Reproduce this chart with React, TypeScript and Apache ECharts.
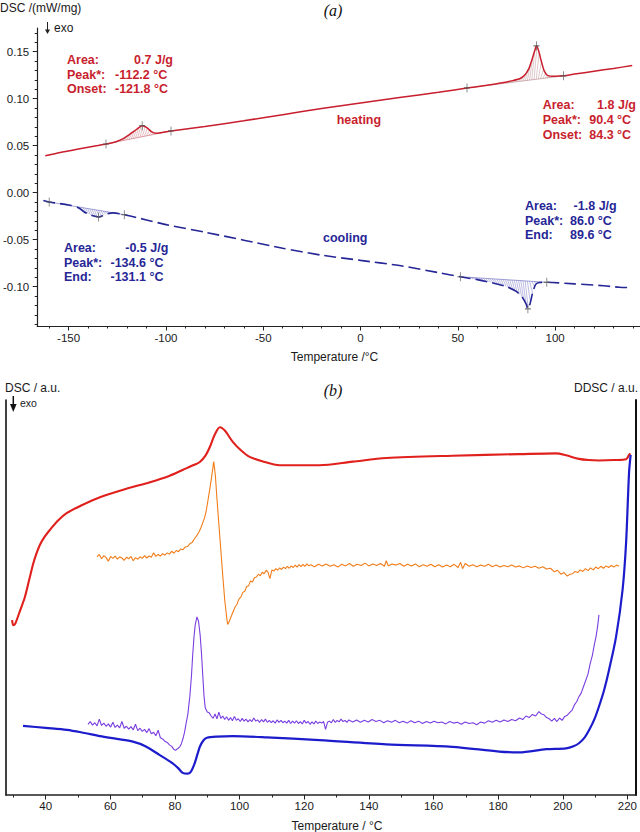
import { useEffect, useRef } from "react";
import * as echarts from "echarts";

// ---- (a) DSC traces: temperature (°C) and heat flow (mW/mg) ----
const heatT = [-162, -155, -145, -135, -130.8, -126, -122, -118, -115, -112.2, -110, -107.5, -105, -100, -97.4, -80, -60, -40, -20, 0, 20, 40, 54.7, 65, 72, 78, 82, 84.5, 86.5, 88, 89.5, 90.4, 91.5, 93, 94.5, 96.3, 100, 104.3, 110, 120, 130, 139.6];
const heatDSC = [0.0392, 0.0425, 0.0465, 0.0502, 0.0518, 0.054, 0.0575, 0.063, 0.0675, 0.0713, 0.0695, 0.065, 0.0632, 0.0648, 0.0657, 0.0705, 0.0765, 0.083, 0.0895, 0.0955, 0.1012, 0.1068, 0.1114, 0.1142, 0.1166, 0.1192, 0.1215, 0.1255, 0.132, 0.141, 0.151, 0.1562, 0.151, 0.139, 0.129, 0.1245, 0.1238, 0.1243, 0.1262, 0.1292, 0.1322, 0.1352];

const coolT = [-163, -160, -150, -145, -142, -139, -136.5, -134.6, -132.5, -130, -127, -121.4, -110, -99, -80, -60, -40, -20.5, 0, 20, 40, 51.3, 60, 68, 75, 80, 83, 85, 86.0, 87, 88.5, 90, 92, 95.7, 110, 125, 133, 139.6];
const coolDSC = [-0.0083, -0.0099, -0.013, -0.016, -0.0205, -0.0235, -0.025, -0.0258, -0.0245, -0.0225, -0.0215, -0.0234, -0.029, -0.0344, -0.042, -0.0505, -0.059, -0.0663, -0.072, -0.0775, -0.085, -0.0894, -0.0925, -0.096, -0.1, -0.105, -0.111, -0.118, -0.1235, -0.119, -0.106, -0.0975, -0.0955, -0.0953, -0.097, -0.099, -0.1006, -0.101];

// integration limits and peak temperatures [start, peak, end]
const heatPeaks = [[-130.8, -112.2, -97.4], [54.7, 90.4, 104.3]];
const coolPeaks = [[-160, -134.6, -121.4], [51.3, 86.0, 95.7]];

const aTempTicks = [-150, -100, -50, 0, 50, 100];
const aTempMinor = [-160, -140, -130, -120, -110, -90, -80, -70, -60, -40, -30, -20, -10, 10, 20, 30, 40, 60, 70, 80, 90, 110, 120, 130, 140];
const aDscTicks = [-0.1, -0.05, 0, 0.05, 0.1, 0.15];
const aDscMinor = [-0.14, -0.13, -0.12, -0.11, -0.09, -0.08, -0.07, -0.06, -0.04, -0.03, -0.02, -0.01, 0.01, 0.02, 0.03, 0.04, 0.06, 0.07, 0.08, 0.09, 0.11, 0.12, 0.13, 0.14, 0.16, 0.17];

// ---- (b) DSC / DDSC traces in arbitrary units ----
const redT = [29.6, 30.0, 30.6, 32.0, 33.6, 35.0, 36.1, 37.0, 38.2, 39.6, 41.3, 44.0, 46.6, 51, 56.8, 64, 72.3, 78, 82.4, 86, 87.7, 89.5, 90.8, 92.3, 93.9, 95.5, 97.9, 100.5, 103.1, 107, 112.4, 124.7, 135, 145.4, 165.8, 186.5, 197.9, 201, 205, 208, 211.2, 216, 219.6, 220.5, 220.9];
const redDSC = [44.3, 43.0, 43.4, 46.5, 50.2, 54.8, 58.4, 60.8, 63.3, 65.3, 67.1, 69.6, 71.4, 73.3, 75.4, 77.3, 79.2, 80.7, 82.3, 83.6, 84.3, 86.0, 88.1, 91.2, 93.1, 92.2, 89.4, 87.2, 85.6, 84.5, 83.5, 83.5, 84.4, 85.3, 85.9, 86.3, 86.5, 86.0, 85.1, 84.8, 84.7, 84.8, 85.0, 86.1, 86.5];

const orangeTrace = [
  [55.9, 60.3], [56.6, 60.9], [57.3, 59.8], [58.0, 60.6], [58.7, 60.1], [59.4, 59.2], [60.1, 60.4], [60.8, 59.9], [61.5, 60.5], [62.2, 59.7],
  [62.9, 60.3], [63.6, 60.0], [64.3, 59.4], [65.0, 60.2], [65.7, 59.8], [66.4, 60.4], [67.1, 59.3], [67.8, 60.1], [68.5, 59.7], [69.2, 60.3],
  [69.9, 59.9], [70.6, 60.6], [71.3, 60.0], [72.0, 60.5], [72.7, 60.2], [73.4, 61.3], [74.1, 60.4], [74.8, 60.9], [75.5, 60.5], [76.2, 61.1],
  [76.9, 60.7], [77.6, 61.3], [78.3, 61.0], [79.0, 61.7], [79.7, 61.2], [80.4, 61.9], [81.1, 61.6], [81.8, 62.3], [82.5, 62.1], [83.2, 62.8],
  [83.9, 62.9], [84.6, 63.6], [85.3, 63.9], [86.0, 64.8], [86.7, 65.6], [87.4, 66.5], [88.0, 67.6], [88.6, 68.9], [89.2, 70.3], [89.7, 72.0],
  [90.2, 74.5], [90.8, 77.5], [91.4, 80.8], [92.0, 84.4], [92.5, 81.0], [93.0, 75.0], [93.6, 68.5], [94.2, 62.0], [94.8, 55.5], [95.4, 49.5],
  [96.0, 45.0], [96.3, 43.2], [96.8, 43.9], [97.4, 45.2], [98.0, 46.4], [98.6, 47.6], [99.2, 48.3], [99.8, 49.6], [100.4, 50.1], [101.0, 51.3],
  [101.6, 51.6], [102.2, 52.8], [102.8, 53.0], [103.4, 54.2], [104.0, 53.9], [104.6, 55.0], [105.2, 55.2], [105.8, 55.9], [106.4, 55.5], [107.0, 56.4],
  [107.6, 56.0], [108.2, 56.9], [108.8, 56.4], [109.4, 54.8], [110.0, 57.0], [110.6, 56.7], [111.2, 57.3], [111.8, 56.9], [112.4, 57.5], [113.0, 57.1],
  [113.6, 57.7], [114.2, 57.3], [114.8, 57.9], [115.4, 57.4], [116.0, 58.0], [116.6, 57.6], [117.2, 58.2], [117.8, 57.7], [118.4, 58.3], [119.0, 57.8],
  [119.6, 58.4], [120.2, 57.9], [120.8, 58.5], [121.4, 58.0], [122.0, 58.3], [123.2, 57.8], [124.4, 58.4], [125.6, 58.0], [126.8, 58.5], [128.0, 57.9],
  [129.2, 58.3], [130.4, 57.7], [131.6, 58.4], [132.8, 58.0], [134.0, 58.6], [135.2, 57.9], [136.4, 58.4], [137.6, 58.1], [138.8, 58.7], [140.0, 58.0],
  [141.2, 58.5], [142.4, 58.1], [143.6, 58.6], [144.8, 57.9], [145.4, 59.3], [146.0, 58.0], [147.2, 58.5], [148.4, 58.2], [149.6, 58.6], [150.8, 57.9],
  [152.0, 58.4], [153.2, 58.0], [154.4, 58.5], [155.6, 57.8], [156.8, 58.3], [158.0, 57.9], [159.2, 58.4], [160.4, 57.8], [161.6, 58.3], [162.8, 57.7],
  [164.0, 58.2], [165.2, 57.8], [166.4, 58.4], [167.6, 57.6], [168.4, 58.9], [169.0, 57.3], [169.8, 58.6], [171.0, 57.9], [172.2, 58.3], [173.4, 57.8],
  [174.6, 58.2], [175.8, 57.9], [177.0, 58.4], [178.2, 57.8], [179.4, 58.2], [180.6, 57.7], [181.8, 58.1], [183.0, 57.8], [184.2, 58.2], [185.4, 57.7],
  [186.6, 58.0], [187.8, 57.5], [189.0, 58.0], [190.2, 57.6], [191.4, 57.9], [192.6, 57.4], [193.8, 57.8], [195.0, 57.2], [196.2, 57.4], [197.4, 56.5],
  [198.4, 56.9], [199.4, 55.9], [200.4, 56.3], [201.4, 55.4], [202.2, 55.9], [203.0, 56.0], [203.8, 56.6], [204.6, 56.3], [205.4, 57.0], [206.2, 56.6],
  [207.0, 57.3], [207.8, 56.8], [208.6, 57.5], [209.4, 57.0], [210.2, 57.7], [211.0, 57.3], [211.8, 57.9], [212.6, 57.4], [213.4, 58.0], [214.2, 57.6],
  [215.0, 58.1], [215.8, 57.7], [216.6, 58.2], [217.4, 57.9],
];

const purpleTrace = [
  [53.1, 17.9], [53.8, 18.6], [54.5, 17.7], [55.2, 18.3], [55.9, 17.5], [56.6, 19.2], [57.3, 17.6], [58.0, 18.2], [58.7, 17.4], [59.4, 18.0],
  [60.1, 17.2], [60.8, 18.4], [61.5, 17.1], [62.2, 17.7], [62.9, 17.0], [63.6, 18.6], [64.3, 16.9], [65.0, 17.4], [65.7, 16.7], [66.4, 17.3],
  [67.1, 16.5], [67.8, 17.9], [68.5, 16.3], [69.2, 16.9], [69.9, 16.1], [70.6, 16.6], [71.3, 15.8], [72.0, 16.8], [72.7, 15.5], [73.4, 15.9],
  [74.1, 15.0], [74.8, 16.4], [75.5, 14.5], [76.2, 14.2], [76.9, 13.6], [77.6, 13.3], [78.3, 12.7], [79.0, 12.3], [79.6, 11.6], [80.2, 11.3],
  [80.8, 11.7], [81.5, 12.2], [82.0, 13.0], [82.5, 14.3], [83.0, 16.0], [83.5, 18.3], [84.0, 20.5], [84.6, 24.9], [85.1, 30.0], [85.5, 35.5],
  [85.9, 40.0], [86.3, 43.2], [86.8, 45.1], [87.3, 44.0], [87.8, 40.5], [88.2, 36.0], [88.6, 30.5], [89.0, 25.0], [89.4, 22.0], [90.0, 21.0],
  [90.6, 20.8], [91.2, 20.0], [91.8, 19.4], [92.4, 20.5], [93.0, 19.3], [93.6, 21.0], [94.2, 19.4], [94.8, 20.0], [95.4, 19.1], [96.0, 19.8],
  [96.6, 18.9], [97.2, 19.6], [97.8, 18.8], [98.4, 19.9], [99.0, 18.9], [99.6, 19.3], [100.2, 18.6], [100.8, 19.4], [101.4, 18.7], [102.0, 19.2],
  [102.6, 18.5], [103.2, 19.1], [103.8, 18.6], [104.4, 19.5], [105.0, 18.7], [105.6, 19.0], [106.2, 18.4], [106.8, 19.1], [107.4, 18.5], [108.0, 19.2],
  [108.6, 18.4], [109.2, 18.9], [109.8, 18.3], [110.4, 18.8], [111.0, 18.2], [111.6, 19.0], [112.2, 18.4], [112.8, 18.9], [113.4, 18.3], [114.0, 18.7],
  [114.6, 18.2], [115.2, 18.9], [115.8, 18.1], [116.4, 18.7], [117.0, 18.2], [117.6, 18.8], [118.2, 18.1], [118.8, 18.6], [119.4, 18.0], [120.0, 18.9],
  [120.6, 18.2], [121.2, 18.6], [121.8, 17.9], [122.4, 18.5], [123.0, 18.0], [123.6, 18.7], [124.2, 18.1], [124.8, 18.5], [125.4, 18.2], [126.0, 18.6],
  [126.6, 16.6], [127.2, 18.4], [127.8, 18.7], [128.4, 18.3], [129.0, 19.1], [129.6, 18.4], [130.2, 18.9], [130.8, 18.5], [131.4, 19.2], [132.0, 18.6],
  [132.6, 18.9], [133.2, 18.4], [133.8, 19.0], [135.0, 18.5], [136.2, 19.0], [137.4, 18.4], [138.6, 18.9], [139.8, 18.5], [141.0, 19.1], [142.2, 18.6],
  [143.4, 18.9], [144.6, 18.3], [145.8, 18.8], [147.0, 18.4], [148.2, 18.9], [149.4, 18.3], [150.6, 18.7], [151.8, 18.2], [153.0, 18.8], [154.2, 18.3],
  [155.4, 18.7], [156.6, 18.1], [157.8, 18.6], [159.0, 18.2], [160.2, 18.7], [161.4, 18.3], [162.6, 18.5], [163.8, 18.0], [165.0, 18.6], [166.2, 18.2],
  [167.4, 18.4], [168.6, 17.9], [169.8, 18.5], [171.0, 18.1], [172.2, 18.3], [173.4, 17.8], [174.6, 18.5], [175.8, 18.2], [177.0, 18.8], [178.2, 18.4],
  [179.4, 18.9], [180.6, 18.5], [181.8, 19.0], [183.0, 18.6], [184.2, 19.1], [185.4, 18.8], [186.6, 19.5], [187.6, 19.1], [188.6, 20.0], [189.6, 19.6],
  [190.6, 20.4], [191.6, 20.0], [192.6, 21.1], [193.4, 20.5], [194.2, 20.3], [195.0, 19.6], [195.8, 19.3], [196.6, 18.7], [197.4, 19.4], [198.2, 18.6],
  [199.0, 19.5], [199.8, 18.9], [200.6, 19.9], [201.4, 20.2], [202.2, 20.9], [202.9, 21.5], [203.6, 22.8], [204.3, 23.6], [205.0, 24.9], [205.7, 25.8],
  [206.4, 27.4], [207.1, 29.0], [207.8, 30.6], [208.5, 33.3], [209.2, 35.5], [209.8, 38.2], [210.3, 40.1], [210.8, 42.8], [211.2, 45.6],
];

const blueT = [33.0, 40, 46.6, 52, 56.8, 62, 67, 71, 75.3, 79.3, 81, 82.4, 84.0, 85.0, 86.1, 87.0, 87.7, 88.8, 89.9, 93, 97.9, 108.4, 124.7, 145.4, 165.8, 180.3, 186.5, 194.9, 201, 203.5, 205, 206.8, 208.2, 209.8, 211.2, 212.8, 214.3, 216.5, 218.5, 219.6, 220.5, 221.0];
const blueDSC = [17.5, 17.0, 16.5, 15.7, 14.9, 14.2, 13.5, 12.3, 10.1, 8.0, 6.8, 5.6, 5.4, 6.0, 8.0, 10.4, 12.2, 13.8, 14.5, 14.8, 14.9, 14.6, 13.9, 12.8, 12.2, 11.0, 10.8, 11.6, 11.8, 12.4, 13.1, 14.6, 16.5, 19.2, 22.4, 26.6, 31.6, 40.1, 51.9, 64.0, 81.5, 86.1];

const bTempTicks = [40, 60, 80, 100, 120, 140, 160, 180, 200, 220];
const bTempMinor = [30, 50, 70, 90, 110, 130, 150, 170, 190, 210];

const FONT = '"Liberation Sans", Arial, sans-serif';
const RED_A = "#c81e2d";
const BLUE_A = "#262696";
const AXIS = "#222";

const zip = (xs: number[], ys: number[]) => xs.map((x, i) => [x, ys[i]]);

function interp(xs: number[], ys: number[], x: number) {
  if (x <= xs[0]) return ys[0];
  for (let i = 1; i < xs.length; i++) {
    if (x <= xs[i]) {
      const f = (x - xs[i - 1]) / (xs[i] - xs[i - 1]);
      return ys[i - 1] + f * (ys[i] - ys[i - 1]);
    }
  }
  return ys[ys.length - 1];
}

// hatched area between a straight baseline (start..end) and the trace
function hatch(ts: number[], vs: number[], t1: number, t2: number, color: string, slant: number) {
  return {
    type: "custom",
    xAxisIndex: 0,
    yAxisIndex: 0,
    silent: true,
    z: 1,
    data: [[t1, interp(ts, vs, t1)]],
    renderItem: (_p: any, api: any) => {
      const a = api.coord([t1, interp(ts, vs, t1)]);
      const b = api.coord([t2, interp(ts, vs, t2)]);
      const children: any[] = [
        { type: "line", shape: { x1: a[0], y1: a[1], x2: b[0], y2: b[1] }, style: { stroke: color, lineWidth: 0.7 } },
      ];
      const w = b[0] - a[0];
      for (let px = a[0] + 1; px < b[0]; px += 2.2) {
        const by = a[1] + ((b[1] - a[1]) * (px - a[0])) / w;
        const cx = Math.min(px + slant, b[0]);
        const t = t1 + ((t2 - t1) * (cx - a[0])) / w;
        const cy = api.coord([t, interp(ts, vs, t)])[1];
        if (Math.abs(cy - by) > 1.5) {
          children.push({ type: "line", shape: { x1: px, y1: by, x2: cx, y2: cy }, style: { stroke: color, lineWidth: 0.5 } });
        }
      }
      return { type: "group", children };
    },
  };
}

function crosses(ts: number[], vs: number[], peaks: number[][]) {
  return {
    type: "scatter",
    xAxisIndex: 0,
    yAxisIndex: 0,
    silent: true,
    z: 4,
    symbol: "path://M5,0L5,10M1.5,5L8.5,5",
    symbolSize: [6, 9],
    itemStyle: { color: "none", borderColor: "#555", borderWidth: 1 },
    data: peaks.flat().map((t) => [t, interp(ts, vs, t)]),
  };
}

function txt(text: string, x: number, y: number, fill: string, font: string, align = "left") {
  return { type: "text", x, y, silent: true, style: { text, fill, font, textAlign: align, textVerticalAlign: "middle" } };
}

const tickLabel = (vals: number[], margin: number, extra: any = {}) => ({
  show: true, customValues: vals, fontSize: 11.5, color: "#1a1a1a", fontFamily: FONT, margin, ...extra,
});

const tickAxis = (grid: number, major: boolean, vals: number[], extra: any = {}) => ({
  gridIndex: grid,
  type: "value",
  splitLine: { show: false },
  axisLine: { show: major, onZero: false, lineStyle: { color: AXIS, width: grid === 0 ? 1.2 : 1.6 } },
  axisTick: { show: true, customValues: vals, length: major ? 4.5 : 2.5, lineStyle: { color: AXIS, width: 1 } },
  axisLabel: { show: false },
  ...extra,
});

export default function App() {
  const ref = useRef<HTMLDivElement>(null);

  useEffect(() => {
    if (!ref.current) return;
    const chart = echarts.init(ref.current, undefined, { renderer: "svg" });

    const annoFont = `bold 12.5px ${FONT}`;
    const labelFont = `12px ${FONT}`;
    const panelFont = 'italic 16px "Liberation Serif", "Times New Roman", serif';

    const option: any = {
      animation: false,
      backgroundColor: "#ffffff",
      textStyle: { fontFamily: FONT },
      grid: [
        { left: 36, top: 28, right: 0, height: 298 },
        { left: 6, top: 400, right: 3, height: 395 },
      ],
      xAxis: [
        tickAxis(0, true, aTempTicks, { min: -166.15, max: 143.6, position: "bottom", axisLabel: tickLabel(aTempTicks, 6) }),
        tickAxis(0, false, aTempMinor, { min: -166.15, max: 143.6, position: "bottom" }),
        tickAxis(1, true, bTempTicks, { min: 27.73, max: 222.7, position: "bottom", axisLabel: tickLabel(bTempTicks, 5) }),
        tickAxis(1, false, bTempMinor, { min: 27.73, max: 222.7, position: "bottom" }),
      ],
      yAxis: [
        tickAxis(0, true, aDscTicks, {
          min: -0.1418,
          max: 0.1752,
          position: "left",
          axisLabel: tickLabel(aDscTicks, 8, { formatter: (v: number) => v.toFixed(2) }),
        }),
        tickAxis(0, false, aDscMinor, { min: -0.1418, max: 0.1752, position: "left" }),
        {
          gridIndex: 1, type: "value", min: 0, max: 100, position: "left",
          splitLine: { show: false }, axisTick: { show: false }, axisLabel: { show: false },
          axisLine: { show: true, onZero: false, lineStyle: { color: "#111", width: 1.6 } },
        },
        {
          gridIndex: 1, type: "value", min: 0, max: 100, position: "right",
          splitLine: { show: false }, axisTick: { show: false }, axisLabel: { show: false },
          axisLine: { show: true, onZero: false, lineStyle: { color: "#111", width: 2 } },
        },
      ],
      series: [
        hatch(heatT, heatDSC, heatPeaks[0][0], heatPeaks[0][2], "rgba(190,80,90,0.75)", 3),
        hatch(heatT, heatDSC, heatPeaks[1][0], heatPeaks[1][2], "rgba(170,110,115,0.75)", 3),
        hatch(coolT, coolDSC, coolPeaks[0][0], coolPeaks[0][2], "rgba(80,80,180,0.75)", 3),
        hatch(coolT, coolDSC, coolPeaks[1][0], coolPeaks[1][2], "rgba(80,80,180,0.75)", 3),
        {
          type: "line", xAxisIndex: 0, yAxisIndex: 0, showSymbol: false, symbol: "none", smooth: 0.25, z: 3,
          lineStyle: { color: RED_A, width: 1.5 },
          data: zip(heatT, heatDSC),
        },
        {
          type: "line", xAxisIndex: 0, yAxisIndex: 0, showSymbol: false, symbol: "none", smooth: 0.25, z: 3,
          lineStyle: { color: BLUE_A, width: 1.6, type: [12, 5] },
          data: zip(coolT, coolDSC),
        },
        crosses(heatT, heatDSC, heatPeaks),
        crosses(coolT, coolDSC, coolPeaks),
        {
          type: "line", xAxisIndex: 2, yAxisIndex: 2, showSymbol: false, symbol: "none", smooth: 0.3, z: 3,
          lineStyle: { color: "#e0201c", width: 2.1 },
          data: zip(redT, redDSC),
        },
        {
          type: "line", xAxisIndex: 2, yAxisIndex: 2, showSymbol: false, symbol: "none", z: 2,
          lineStyle: { color: "#f07d1a", width: 1.1 },
          data: orangeTrace,
        },
        {
          type: "line", xAxisIndex: 2, yAxisIndex: 2, showSymbol: false, symbol: "none", z: 2,
          lineStyle: { color: "#7a3ee0", width: 1.1 },
          data: purpleTrace,
        },
        {
          type: "line", xAxisIndex: 2, yAxisIndex: 2, showSymbol: false, symbol: "none", smooth: 0.3, z: 3,
          lineStyle: { color: "#1c1ccc", width: 2.2 },
          data: zip(blueT, blueDSC),
        },
      ],
      graphic: [
        // panel (a)
        txt("DSC /(mW/mg)", 0, 8, "#1a1a1a", labelFont),
        txt("(a)", 333, 10, "#111", panelFont, "center"),
        { type: "line", silent: true, shape: { x1: 47.5, y1: 22, x2: 47.5, y2: 31 }, style: { stroke: "#222", lineWidth: 1 } },
        { type: "polygon", silent: true, shape: { points: [[45, 29.5], [50, 29.5], [47.5, 34]] }, style: { fill: "#222" } },
        txt("exo", 54, 27.5, "#1a1a1a", labelFont),
        txt("Temperature /°C", 334.5, 357, "#1a1a1a", labelFont, "center"),

        txt("Area:", 67, 60, RED_A, annoFont),
        txt("0.7 J/g", 173, 60, RED_A, annoFont, "right"),
        txt("Peak*:", 67, 74.5, RED_A, annoFont),
        txt("-112.2 °C", 115, 74.5, RED_A, annoFont),
        txt("Onset:", 67, 89, RED_A, annoFont),
        txt("-121.8 °C", 115, 89, RED_A, annoFont),

        txt("Area:", 542.7, 105, RED_A, annoFont),
        txt("1.8 J/g", 636, 105, RED_A, annoFont, "right"),
        txt("Peak*:", 542.7, 120, RED_A, annoFont),
        txt("90.4 °C", 589.3, 120, RED_A, annoFont),
        txt("Onset:", 542.7, 135, RED_A, annoFont),
        txt("84.3 °C", 589.3, 135, RED_A, annoFont),
        txt("heating", 336.7, 120, RED_A, annoFont),

        txt("Area:", 64, 248.3, BLUE_A, annoFont),
        txt("-0.5 J/g", 168.3, 248.3, BLUE_A, annoFont, "right"),
        txt("Peak*:", 64, 262.7, BLUE_A, annoFont),
        txt("-134.6 °C", 110.5, 262.7, BLUE_A, annoFont),
        txt("End:", 64, 277.3, BLUE_A, annoFont),
        txt("-131.1 °C", 110.5, 277.3, BLUE_A, annoFont),

        txt("Area:", 525, 206, BLUE_A, annoFont),
        txt("-1.8 J/g", 616.7, 206, BLUE_A, annoFont, "right"),
        txt("Peak*:", 525, 221, BLUE_A, annoFont),
        txt("86.0 °C", 570, 221, BLUE_A, annoFont),
        txt("End:", 525, 235.3, BLUE_A, annoFont),
        txt("89.6 °C", 570, 235.3, BLUE_A, annoFont),
        txt("cooling", 323, 237.7, BLUE_A, annoFont),

        // panel (b)
        txt("DSC / a.u.", 5, 388, "#1a1a1a", labelFont),
        txt("(b)", 333, 390.7, "#111", panelFont, "center"),
        txt("DDSC / a.u.", 638, 388, "#1a1a1a", labelFont, "right"),
        { type: "line", silent: true, shape: { x1: 13.3, y1: 396, x2: 13.3, y2: 406 }, style: { stroke: "#111", lineWidth: 1.5 } },
        { type: "polygon", silent: true, shape: { points: [[10, 404], [16.6, 404], [13.3, 412]] }, style: { fill: "#111" } },
        txt("exo", 20, 403, "#1a1a1a", `10.5px ${FONT}`),
        txt("Temperature / °C", 337, 826, "#1a1a1a", labelFont, "center"),
      ],
    };

    chart.setOption(option);
    return () => chart.dispose();
  }, []);

  return <div ref={ref} style={{ position: "absolute", left: 0, top: 0, width: 640, height: 832 }} />;
}
